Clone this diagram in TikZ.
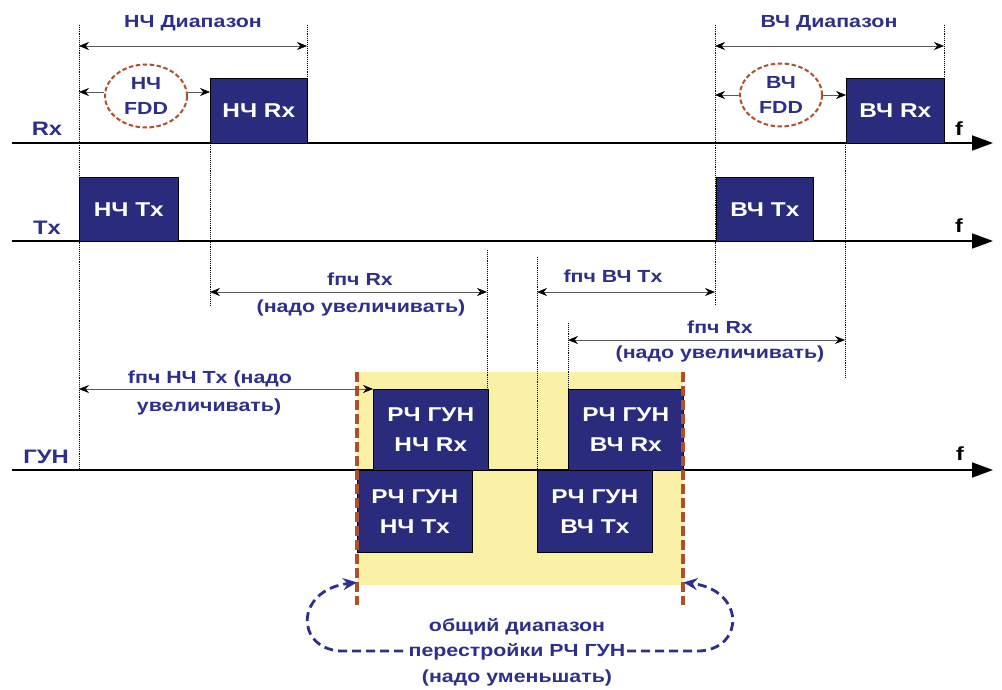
\documentclass[tikz,border=0pt]{standalone}
\usepackage{fontspec}
\setmainfont{Liberation Sans}[FakeStretch=1.22]
\usetikzlibrary{arrows.meta,shapes.geometric}
\definecolor{navy}{HTML}{2D2F8A}
\definecolor{boxc}{HTML}{2A2B7C}
\definecolor{rust}{HTML}{B0502A}
\definecolor{yel}{HTML}{FBF1A6}
\begin{document}
\begin{tikzpicture}[x=1pt,y=-1pt,
  lbl/.style={font=\fontsize{17.5}{20}\selectfont\bfseries, text=navy, inner sep=0pt, anchor=base},
  axlbl/.style={font=\fontsize{19.5}{20}\selectfont\bfseries, text=navy, inner sep=0pt, anchor=base},
  flbl/.style={font=\fontsize{19}{20}\selectfont\bfseries, text=black, inner sep=0pt, anchor=base},
  blk/.style={fill=boxc, draw=black, line width=0.6pt, text=white, font=\fontsize{20}{30}\selectfont\bfseries, align=center, inner sep=0pt, anchor=north west},
  guide/.style={densely dotted, line width=0.9pt, black},
  dim/.style={line width=0.7pt, gray!70!black, {Stealth[length=10pt,width=8pt,color=black]}-{Stealth[length=10pt,width=8pt,color=black]}},
  onetip/.style={line width=0.7pt, gray!70!black, -{Stealth[length=10pt,width=8pt,color=black]}},
  axis/.style={line width=1.8pt, black, -{Triangle[length=21pt,width=15pt]}},
  fdd/.style={ellipse, draw=rust, dash pattern=on 4.5pt off 2.5pt, line width=2pt, minimum width=82pt, minimum height=63pt, inner sep=0pt, align=center, text=navy, font=\fontsize{17.5}{25}\selectfont\bfseries},
  rustl/.style={rust, line width=3.6pt, dash pattern=on 10pt off 4pt},
  curvy/.style={navy, line width=2.8pt, dash pattern=on 9pt off 5pt, -{Stealth[length=14pt,width=12pt]}},
]
\useasboundingbox (0,0) rectangle (1002,690);

% yellow zone
\node[fill=yel, minimum width=326pt, minimum height=213pt, inner sep=0pt, anchor=north west] (zone) at (357,372) {};

% guide lines
\draw[guide] (79,25) -- (79,470);
\draw[guide] (307,25) -- (307,78);
\draw[guide] (210,143) -- (210,306);
\draw[guide] (487,250) -- (487,389);
\draw[guide] (537,257) -- (537,470);
\draw[guide] (568,323) -- (568,389);
\draw[guide] (715,25) -- (715,306);
\draw[guide] (845,143) -- (845,377);
\draw[guide] (944,25) -- (944,78);

% axes
\coordinate (a1s) at (12,143); \coordinate (a1e) at (993,143);
\coordinate (a2s) at (12,241); \coordinate (a2e) at (993,241);
\coordinate (a3s) at (12,470); \coordinate (a3e) at (993,470);
\draw[axis] (a1s) -- (a1e);
\draw[axis] (a2s) -- (a2e);
\draw[axis] (a3s) -- (a3e);

\node[axlbl] (lrx) at (47,136) {Rx};
\node[axlbl] (ltx) at (47,234) {Tx};
\node[axlbl] (lgun) at (46,463) {ГУН};
\node[flbl] (f1) at (959,136) {f};
\node[flbl] (f2) at (959,233) {f};
\node[flbl] (f3) at (960,460) {f};

% boxes
\node[blk, minimum width=97pt, minimum height=65pt] (nrx) at (210,78) {НЧ Rx};
\node[blk, minimum width=98pt, minimum height=65pt] (vrx) at (846,78) {ВЧ Rx};
\node[blk, minimum width=99pt, minimum height=64pt] (ntx) at (79,177) {НЧ Tx};
\node[blk, minimum width=97pt, minimum height=64pt] (vtx) at (716,177) {ВЧ Tx};
\node[blk, minimum width=115pt, minimum height=81pt] (gnrx) at (373,389) {РЧ ГУН\\НЧ Rx};
\node[blk, minimum width=115pt, minimum height=81pt] (gvrx) at (568,389) {РЧ ГУН\\ВЧ Rx};
\node[blk, minimum width=115pt, minimum height=82pt] (gntx) at (357,470) {РЧ ГУН\\НЧ Tx};
\node[blk, minimum width=115pt, minimum height=82pt] (gvtx) at (537,470) {РЧ ГУН\\ВЧ Tx};

% rust dashed borders
\coordinate (r1t) at (357,372); \coordinate (r1b) at (357,605);
\coordinate (r2t) at (683,372); \coordinate (r2b) at (683,605);
\draw[rustl] (r1t) -- (r1b);
\draw[rustl] (r2t) -- (r2b);

% range arrows
\coordinate (nd1) at (79,46); \coordinate (nd2) at (307,46);
\coordinate (vd1) at (715,46); \coordinate (vd2) at (944,46);
\draw[dim] (nd1) -- (nd2);
\draw[dim] (vd1) -- (vd2);
\node[lbl] (tnd) at (193,28) {НЧ Диапазон};
\node[lbl] (tvd) at (829,28) {ВЧ Диапазон};

% FDD
\node[fdd] (e1) at (146,96) {НЧ\\FDD};
\node[fdd] (e2) at (781,95) {ВЧ\\FDD};
\coordinate (fl1) at (79,92);
\coordinate (fl2) at (715,95);
\draw[onetip] (e1.west |- fl1) -- (fl1);
\draw[onetip] (e1.east |- fl1) -- (nrx.west |- fl1);
\draw[onetip] (e2.west |- fl2) -- (fl2);
\draw[onetip] (e2.east |- fl2) -- (vrx.west |- fl2);

% IF arrows
\coordinate (i1a) at (210,292); \coordinate (i1b) at (487,292);
\draw[dim] (i1a) -- (i1b);
\node[lbl] (t1a) at (360,285) {fпч Rx};
\node[lbl] (t1b) at (361,312) {(надо увеличивать)};

\coordinate (i2a) at (537,292); \coordinate (i2b) at (715,292);
\draw[dim] (i2a) -- (i2b);
\node[lbl] (t2a) at (613,282) {fпч ВЧ Tx};

\coordinate (i3a) at (568,340); \coordinate (i3b) at (845,340);
\draw[dim] (i3a) -- (i3b);
\node[lbl] (t3a) at (720,333) {fпч Rx};
\node[lbl] (t3b) at (720,358) {(надо увеличивать)};

\coordinate (i4a) at (79,389);
\draw[dim] (i4a) -- (gnrx.north west);
\node[lbl] (t4a) at (210,383) {fпч НЧ Tx (надо};
\node[lbl] (t4b) at (209,411) {увеличивать)};

% bottom text
\node[lbl] (b1) at (517,631) {общий диапазон};
\node[lbl] (b2) at (517,656) {перестройки РЧ ГУН};
\node[lbl] (b3) at (517,682) {(надо уменьшать)};

\coordinate (cl) at (403,651);
\coordinate (cr) at (627,651);
\draw[curvy] (cl) -- (340,651) .. controls (295,648) and (295,590) .. ([yshift=3pt]zone.south west);
\draw[curvy] (cr) -- (700,651) .. controls (745,648) and (745,590) .. ([yshift=3pt]zone.south east);
\end{tikzpicture}
\end{document}
